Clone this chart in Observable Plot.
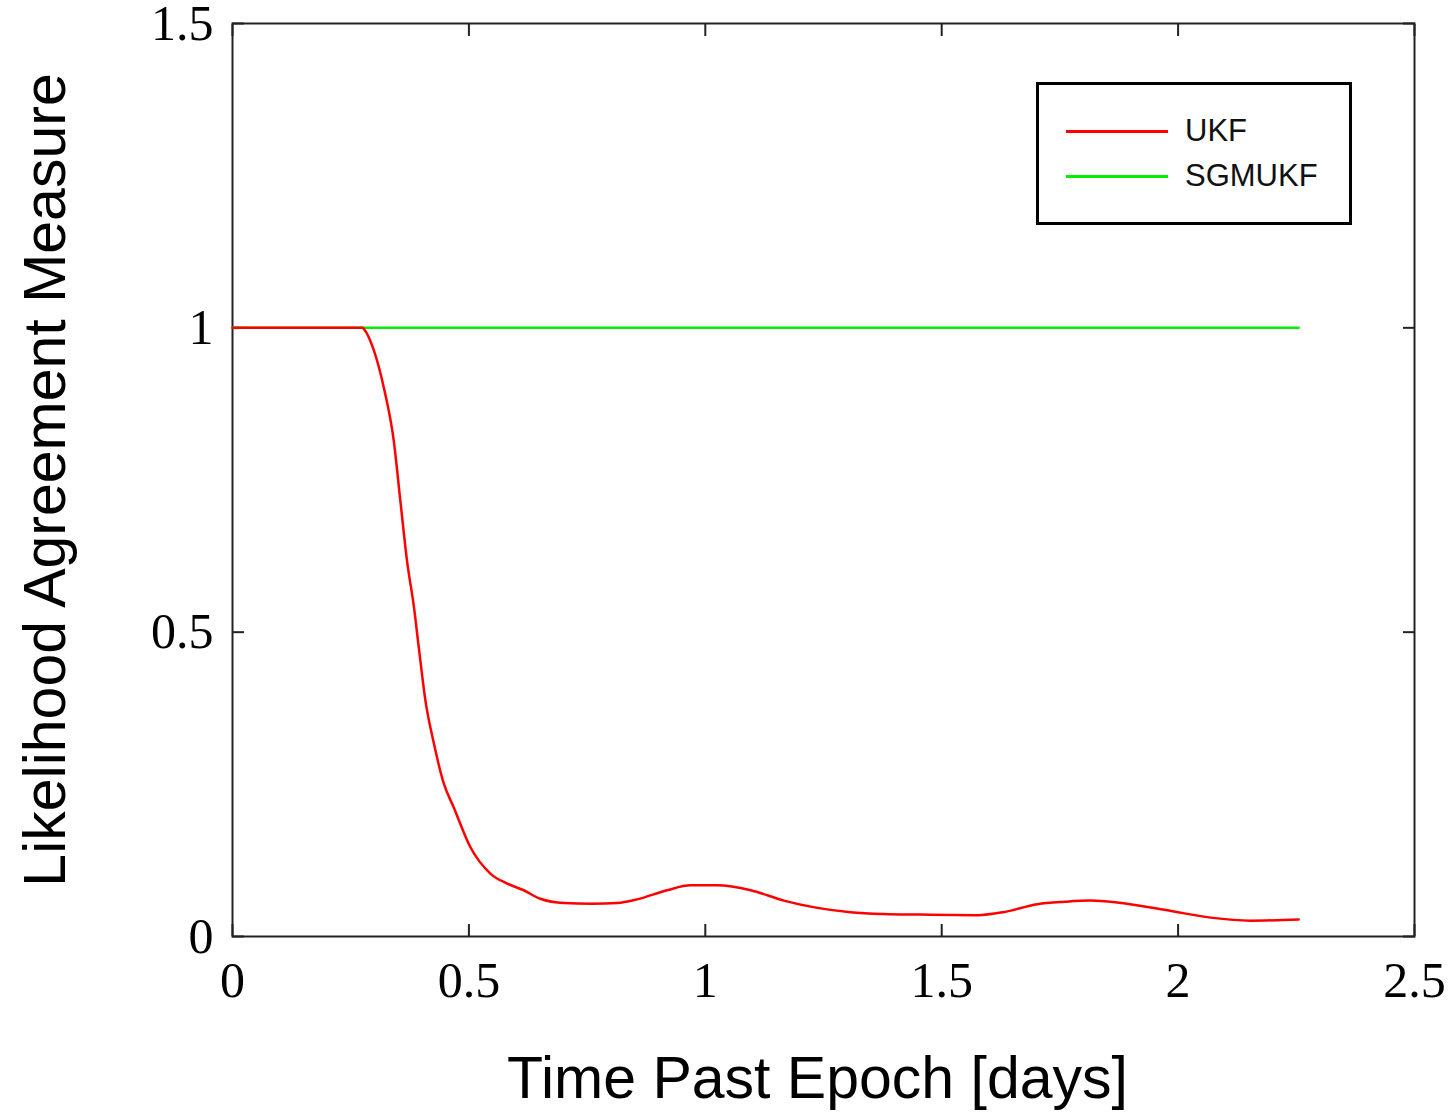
<!DOCTYPE html>
<html>
<head>
<meta charset="utf-8">
<script src="https://cdn.jsdelivr.net/npm/d3@7"></script>
<script src="https://cdn.jsdelivr.net/npm/@observablehq/plot@0.6"></script>
<style>
  html, body { margin: 0; padding: 0; background: #fff; }
  #wrap { position: relative; width: 1453px; height: 1113px; }
  #legend {
    position: absolute; left: 1036px; top: 82px; width: 310px; height: 137px;
    border: 3px solid #000; background: #fff; box-sizing: content-box;
    font-family: "Liberation Sans", Arial, sans-serif; font-size: 31px; color: #111;
  }
  .item { position: absolute; left: 27px; height: 30px; display: flex; align-items: center; }
  .swatch { width: 102px; height: 0; border-top: 3px solid; margin-right: 17px; }
</style>
</head>
<body>
<div id="wrap"></div>
<script>
// ---- data ----
const ukfT = [0, 0.275, 0.278, 0.299, 0.320, 0.341, 0.355, 0.369, 0.384, 0.394, 0.408, 0.426, 0.447, 0.468, 0.503, 0.546, 0.581, 0.616, 0.651, 0.701, 0.760, 0.814, 0.856, 0.919, 0.969, 1.025, 1.096, 1.166, 1.237, 1.307, 1.378, 1.450, 1.575, 1.631, 1.702, 1.760, 1.815, 1.871, 1.977, 2.069, 2.153, 2.255];
const ukfV = [1, 1, 0.998, 0.963, 0.902, 0.815, 0.716, 0.618, 0.540, 0.475, 0.388, 0.317, 0.251, 0.212, 0.147, 0.103, 0.087, 0.076, 0.062, 0.055, 0.054, 0.055, 0.061, 0.076, 0.084, 0.084, 0.076, 0.059, 0.047, 0.040, 0.037, 0.036, 0.035, 0.040, 0.053, 0.057, 0.059, 0.056, 0.043, 0.031, 0.026, 0.028];
const sgmT = [0, 2.255];
const sgmV = [1, 1];
const xTicks = [0, 0.5, 1, 1.5, 2, 2.5];
const yTicks = [0, 0.5, 1, 1.5];
const seriesNames = ["UKF", "SGMUKF"];
const seriesColors = ["#ff0000", "#00ee00"];
const xLabel = "Time Past Epoch [days]";
const yLabel = "Likelihood Agreement Measure";

const ukf = ukfT.map((t, i) => ({t, v: ukfV[i]}));
const sgm = sgmT.map((t, i) => ({t, v: sgmV[i]}));

const serif = "'Liberation Serif', 'Times New Roman', serif";
const sans = "'Liberation Sans', Arial, sans-serif";
const fmt = d => String(d);

const chart = Plot.plot({
  width: 1453,
  height: 1113,
  marginLeft: 232,
  marginRight: 39,
  marginTop: 23,
  marginBottom: 177,
  style: {background: "#fff", color: "#000", overflow: "visible"},
  x: {domain: [0, 2.5]},
  y: {domain: [0, 1.5]},
  marks: [
    Plot.frame({stroke: "#222", strokeWidth: 2}),
    // inward ticks on all four sides
    Plot.axisX({anchor: "bottom", ticks: xTicks, tickSize: 12, dy: -12, tickFormat: () => "", label: null, stroke: "#222", strokeWidth: 2}),
    Plot.axisX({anchor: "top", ticks: xTicks, tickSize: 12, dy: 12, tickFormat: () => "", label: null, stroke: "#222", strokeWidth: 2}),
    Plot.axisY({anchor: "left", ticks: yTicks, tickSize: 12, dx: 12, tickFormat: () => "", label: null, stroke: "#222", strokeWidth: 2}),
    Plot.axisY({anchor: "right", ticks: yTicks, tickSize: 12, dx: -12, tickFormat: () => "", label: null, stroke: "#222", strokeWidth: 2}),
    // tick labels
    Plot.axisX({anchor: "bottom", ticks: xTicks, tickSize: 0, tickPadding: 25, tickFormat: fmt, label: null, fontSize: 50, fontFamily: serif}),
    Plot.axisY({anchor: "left", ticks: yTicks, tickSize: 0, tickPadding: 19, tickFormat: fmt, label: null, fontSize: 50, fontFamily: serif}),
    // axis titles
    Plot.text([xLabel], {text: d => d, frameAnchor: "bottom", textAnchor: "middle", dx: -6, dy: 161, lineAnchor: "bottom", fontSize: 59, fontFamily: sans, fill: "#000"}),
    Plot.text([yLabel], {text: d => d, frameAnchor: "left", textAnchor: "middle", dx: -168, rotate: -90, lineAnchor: "bottom", fontSize: 59, fontFamily: sans, fill: "#000"}),
    // data
    Plot.line(sgm, {x: "t", y: "v", stroke: seriesColors[1], strokeWidth: 2.5}),
    Plot.line(ukf, {x: "t", y: "v", stroke: seriesColors[0], strokeWidth: 2.5, curve: "monotone-x"})
  ]
});

const wrap = document.getElementById("wrap");
wrap.appendChild(chart);

// legend
const legend = document.createElement("div");
legend.id = "legend";
seriesNames.forEach((name, i) => {
  const item = document.createElement("div");
  item.className = "item";
  item.style.top = (i === 0 ? 31 : 76) + "px";
  const sw = document.createElement("span");
  sw.className = "swatch";
  sw.style.borderColor = seriesColors[i];
  const lab = document.createElement("span");
  lab.textContent = name;
  item.appendChild(sw);
  item.appendChild(lab);
  legend.appendChild(item);
});
wrap.appendChild(legend);
</script>
</body>
</html>
